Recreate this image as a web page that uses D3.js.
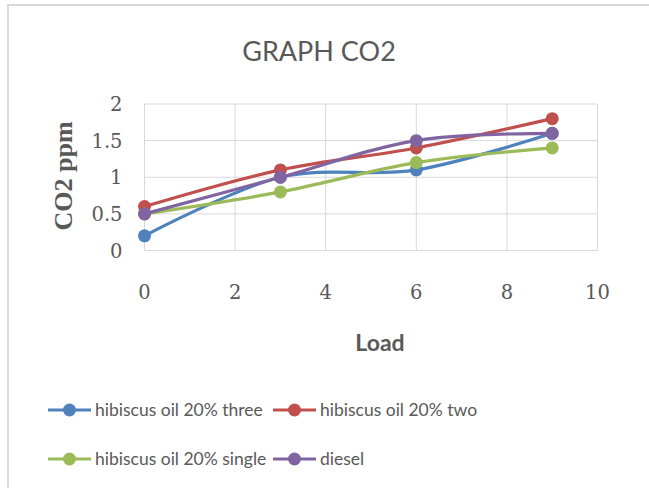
<!DOCTYPE html>
<html>
<head>
<meta charset="utf-8">
<script src="https://cdn.jsdelivr.net/npm/d3@7"></script>
<style>
  body { margin: 0; background: #fff; }
  svg { display: block; }
  .tick-label { font-family: "DejaVu Serif", serif; font-size: 19.5px; fill: #595959; }
  .legend-label { font-family: Lato, sans-serif; font-size: 17.5px; fill: #595959; }
</style>
</head>
<body>
<div id="chart"></div>
<script>
// Chart data
var loads = [0, 3, 6, 9];
var seriesNames = ["hibiscus oil 20% three", "hibiscus oil 20% two", "hibiscus oil 20% single", "diesel"];
var threeValues = [0.2, 1.0, 1.1, 1.6];
var twoValues = [0.6, 1.1, 1.4, 1.8];
var singleValues = [0.5, 0.8, 1.2, 1.4];
var dieselValues = [0.5, 1.0, 1.5, 1.6];
var xTicks = [0, 2, 4, 6, 8, 10];
var yTicks = [0, 0.5, 1, 1.5, 2];

var colors = ["#4F81BD", "#C0504D", "#9BBB59", "#8064A2"];
var allValues = [threeValues, twoValues, singleValues, dieselValues];

var width = 649, height = 488;
var margin = { top: 104, right: 51.5, bottom: 237.5, left: 144.5 };

var svg = d3.select('#chart')
    .append('svg')
    .attr('width', width)
    .attr('height', height);

// outer chart border
svg.append('rect')
    .attr('x', 8)
    .attr('y', 5)
    .attr('width', width + 20)
    .attr('height', height + 20)
    .attr('fill', 'none')
    .attr('stroke', '#d9d9d9')
    .attr('stroke-width', 2);

var x = d3.scaleLinear()
    .domain([0, 10])
    .range([margin.left, width - margin.right]);

var y = d3.scaleLinear()
    .domain([0, 2])
    .range([height - margin.bottom, margin.top]);

// gridlines
svg.append('g')
    .selectAll('line')
    .data(xTicks)
    .enter()
    .append('line')
    .attr('x1', function(d) { return x(d); })
    .attr('x2', function(d) { return x(d); })
    .attr('y1', y(0))
    .attr('y2', y(2))
    .attr('stroke', '#d9d9d9')
    .attr('stroke-width', 1);

svg.append('g')
    .selectAll('line')
    .data(yTicks)
    .enter()
    .append('line')
    .attr('x1', x(0))
    .attr('x2', x(10))
    .attr('y1', function(d) { return y(d); })
    .attr('y2', function(d) { return y(d); })
    .attr('stroke', '#d9d9d9')
    .attr('stroke-width', 1);

// tick labels
svg.append('g')
    .selectAll('text')
    .data(yTicks)
    .enter()
    .append('text')
    .attr('class', 'tick-label')
    .attr('x', x(0) - 22)
    .attr('y', function(d) { return y(d) + 7; })
    .attr('text-anchor', 'end')
    .text(function(d) { return d; });

svg.append('g')
    .selectAll('text')
    .data(xTicks)
    .enter()
    .append('text')
    .attr('class', 'tick-label')
    .attr('x', function(d) { return x(d); })
    .attr('y', 299)
    .attr('text-anchor', 'middle')
    .text(function(d) { return d; });

// title
svg.append('text')
    .attr('x', 319)
    .attr('y', 61)
    .attr('text-anchor', 'middle')
    .style('font-family', 'Lato, "Open Sans", sans-serif')
    .style('font-size', '27px')
    .style('fill', '#595959')
    .text('GRAPH CO2');

// axis titles
svg.append('text')
    .attr('transform', 'translate(72,176) rotate(-90)')
    .attr('text-anchor', 'middle')
    .style('font-family', '"Liberation Serif", serif')
    .style('font-weight', 'bold')
    .style('font-size', '26px')
    .style('fill', '#595959')
    .text('CO2 ppm');

svg.append('text')
    .attr('x', 380)
    .attr('y', 351)
    .attr('text-anchor', 'middle')
    .style('font-family', 'Lato, "Open Sans", sans-serif')
    .style('font-weight', 'bold')
    .style('font-size', '23px')
    .style('fill', '#595959')
    .text('Load');

// lines and markers
var line = d3.line()
    .x(function(d, i) { return x(loads[i]); })
    .y(function(d) { return y(d); })
    .curve(d3.curveCatmullRom.alpha(0));

allValues.forEach(function(vals, i) {
    svg.append('path')
        .datum(vals)
        .attr('d', line)
        .attr('fill', 'none')
        .attr('stroke', colors[i])
        .attr('stroke-width', 3.2);

    svg.append('g')
        .selectAll('circle')
        .data(vals)
        .enter()
        .append('circle')
        .attr('cx', function(d, j) { return x(loads[j]); })
        .attr('cy', function(d) { return y(d); })
        .attr('r', 6.5)
        .attr('fill', colors[i]);
});

// legend
var legendPos = [[48, 410], [273, 410], [48, 459], [273, 459]];
seriesNames.forEach(function(name, i) {
    var lx = legendPos[i][0], ly = legendPos[i][1];
    var g = svg.append('g').attr('transform', 'translate(' + lx + ',' + ly + ')');
    g.append('line')
        .attr('x1', 0).attr('x2', 43)
        .attr('y1', 0).attr('y2', 0)
        .attr('stroke', colors[i])
        .attr('stroke-width', 3.2);
    g.append('circle')
        .attr('cx', 21.5).attr('cy', 0)
        .attr('r', 6.5)
        .attr('fill', colors[i]);
    g.append('text')
        .attr('class', 'legend-label')
        .attr('x', 47)
        .attr('y', 6)
        .text(name);
});
</script>
</body>
</html>
